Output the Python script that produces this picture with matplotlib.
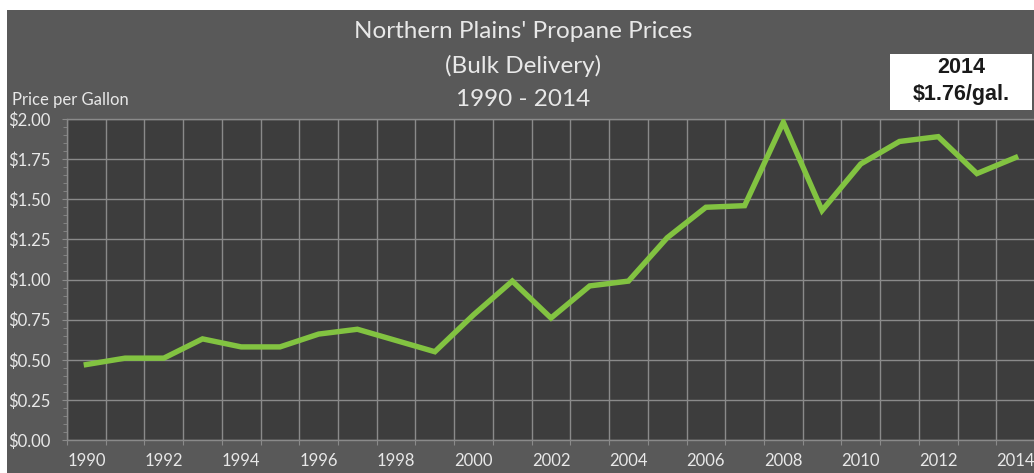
import matplotlib
matplotlib.use("Agg")
import matplotlib.pyplot as plt
import numpy as np
from matplotlib.patches import Rectangle
from matplotlib.ticker import FixedLocator, FuncFormatter

# propane price per gallon, Northern Plains, bulk delivery
years = list(range(1990, 2015))
prices = [0.47, 0.51, 0.51, 0.63, 0.58, 0.58, 0.66, 0.69, 0.62, 0.55,
          0.78, 0.99, 0.76, 0.96, 0.99, 1.26, 1.45, 1.46, 1.98, 1.43,
          1.72, 1.86, 1.89, 1.66, 1.76]
title_lines = ["Northern Plains' Propane Prices", "(Bulk Delivery)", "1990 - 2014"]
box_text = "2014\n\\$1.76/gal."

W, H = 1034, 473
outer_bg = "#595959"
plot_bg = "#3d3d3d"
grid_col = "#8a8a8a"
text_col = "#e8e8e8"
line_col = "#82c341"
font = ["Lato", "DejaVu Sans"]

fig = plt.figure(figsize=(W / 100, H / 100), dpi=100)
fig.patch.set_facecolor("white")
# gray panel, small white strip left and top
fig.patches.append(Rectangle((7 / W, 0), 1, (H - 10) / H, transform=fig.transFigure,
                             facecolor=outer_bg, edgecolor="none", zorder=-10))

x0, x1 = 67, 1035
y0, y1 = 119, 440
ax = fig.add_axes([x0 / W, (H - y1) / H, (x1 - x0) / W, (y1 - y0) / H])
ax.set_facecolor(plot_bg)

xs = np.arange(len(years))
ax.plot(xs, prices, color=line_col, lw=3.9, solid_joinstyle="miter", zorder=3)

ax.set_xlim(-0.5, len(years) - 0.5)
ax.set_ylim(0, 2.0)

# x: gridlines on category boundaries, labels every other year
ax.xaxis.set_major_locator(FixedLocator(np.arange(-0.5, len(years), 1.0)))
ax.xaxis.set_minor_locator(FixedLocator(xs[::2]))
ax.xaxis.set_major_formatter(FuncFormatter(lambda v, p: ""))
ax.xaxis.set_minor_formatter(FuncFormatter(lambda v, p: str(years[int(round(v))])))
ax.tick_params(axis="x", which="major", length=3.6, color=grid_col, direction="out")
ax.tick_params(axis="x", which="minor", length=0, pad=9.5, labelsize=12, labelcolor=text_col)

ax.yaxis.set_major_locator(FixedLocator(np.arange(0, 2.01, 0.25)))
ax.yaxis.set_minor_locator(FixedLocator(np.arange(0, 2.01, 0.05)))
ax.yaxis.set_major_formatter(FuncFormatter(lambda v, p: "\\$%.2f" % v))
ax.tick_params(axis="y", which="major", length=3.6, color=grid_col, pad=8,
               labelsize=12, labelcolor=text_col)
ax.tick_params(axis="y", which="minor", length=3, color=grid_col)

for lab in ax.get_xticklabels(minor=True) + ax.get_yticklabels():
    lab.set_family(font)

ax.grid(True, which="major", color=grid_col, lw=1.0)
ax.set_axisbelow(True)
for s in ax.spines.values():
    s.set_color(grid_col)
    s.set_linewidth(1.0)

# titles
for i, t in enumerate(title_lines):
    fig.text(523 / W, 1 - (32 + 33.5 * i) / H, t, ha="center", va="center",
             fontsize=17.5, color=text_col, family=font)
fig.text(12 / W, 1 - 100 / H, "Price per Gallon", ha="left", va="center",
         fontsize=12, color=text_col, family=font)

# annotation box
fig.patches.append(Rectangle((890 / W, 1 - 110 / H), 142 / W, 56 / H,
                             transform=fig.transFigure, facecolor="white",
                             edgecolor="none", zorder=5))
fig.text(961 / W, 1 - 81 / H, box_text, ha="center", va="center", fontsize=15.5,
         fontweight="bold", color="#1a1a1a", family=["Liberation Sans", "DejaVu Sans"],
         linespacing=1.35, zorder=6)

fig.savefig("out.png", dpi=100)
